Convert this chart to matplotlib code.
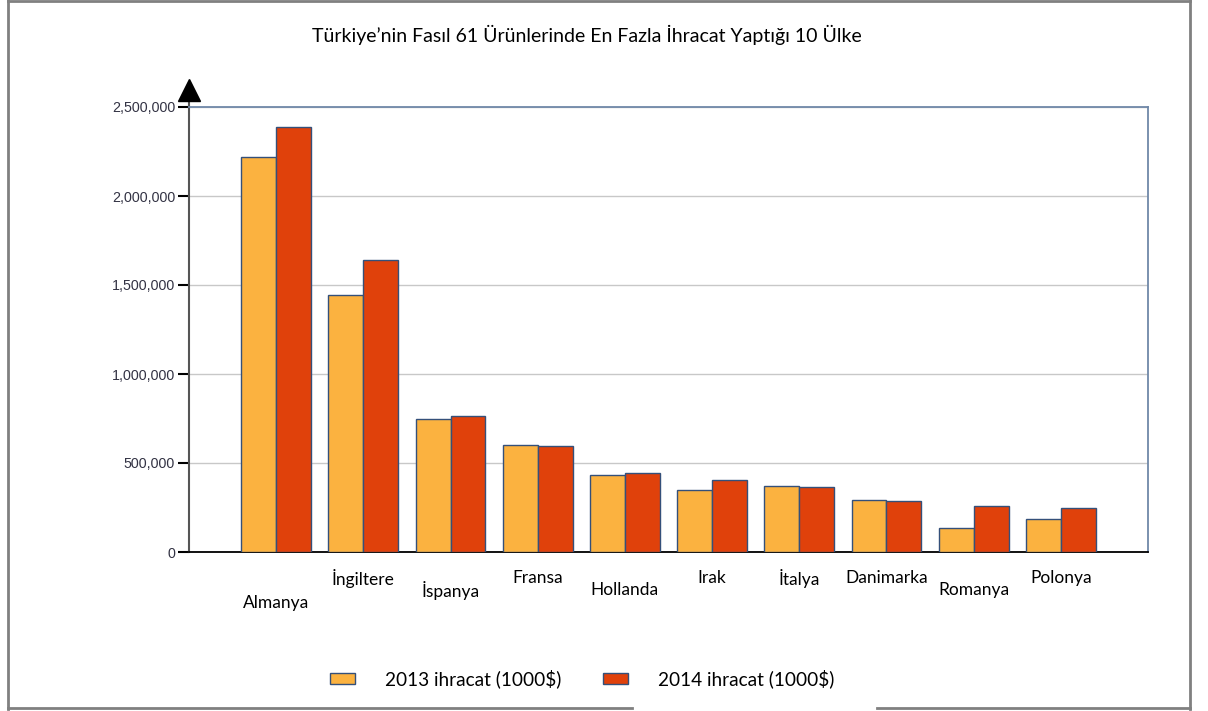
import numpy as np
import matplotlib
matplotlib.use("Agg")
import matplotlib.pyplot as plt
from matplotlib.ticker import FuncFormatter
from matplotlib.lines import Line2D

# Data (1000 $)
countries = ["Almanya", "İngiltere", "İspanya", "Fransa", "Hollanda",
             "Irak", "İtalya", "Danimarka", "Romanya", "Polonya"]
exports_2013 = [2220000, 1443000, 746000, 603000, 433000,
                346000, 373000, 294000, 133000, 188000]
exports_2014 = [2385000, 1640000, 763000, 596000, 444000,
                406000, 365000, 287000, 261000, 248000]
series_labels = ["2013 ihracat (1000$)", "2014 ihracat (1000$)"]
title = "Türkiye’nin Fasıl 61 Ürünlerinde En Fazla İhracat Yaptığı 10 Ülke"

# staggered label drop (px below axis) as in the original
label_drop = [51, 26, 38, 26, 38, 26, 26, 26, 38, 26]

color_2013 = "#FBB240"
color_2014 = "#E0410B"
edge = "#34507A"

fig = plt.figure(figsize=(12.08, 7.11), dpi=100)
ax = fig.add_axes([189 / 1208, 1 - 552 / 711, (1148 - 189) / 1208, (552 - 107) / 711])

x = np.arange(len(countries))
w = 0.4
b1 = ax.bar(x - w / 2, exports_2013, w, color=color_2013, edgecolor=edge, linewidth=1.0,
            label=series_labels[0], zorder=3)
b2 = ax.bar(x + w / 2, exports_2014, w, color=color_2014, edgecolor=edge, linewidth=1.0,
            label=series_labels[1], zorder=3)

ax.set_xlim(-1, len(countries))
ax.set_ylim(0, 2500000)
ax.set_yticks(np.arange(0, 2500001, 500000))
ax.yaxis.set_major_formatter(FuncFormatter(lambda v, p: f"{int(v):,}"))
ax.tick_params(axis="y", direction="out", length=8, width=1.5, color="black",
               labelsize=10.3, labelcolor="#333344", pad=2)
for lab in ax.get_yticklabels():
    lab.set_fontfamily("Liberation Sans")
ax.set_xticks([])
ax.grid(axis="y", color="#C8C8C8", linewidth=1, zorder=0)

ax.spines["top"].set_color("#7088A8")
ax.spines["right"].set_color("#7088A8")
ax.spines["top"].set_linewidth(1.3)
ax.spines["right"].set_linewidth(1.3)
ax.spines["bottom"].set_color("black")
ax.spines["bottom"].set_linewidth(1.3)
ax.spines["left"].set_color("#555555")
ax.spines["left"].set_linewidth(1.5)

# y axis arrow
ax_h = 552 - 107
ax.plot([0, 0], [1, 1 + 20 / ax_h], transform=ax.transAxes, color="#555555",
        lw=1.5, clip_on=False)
ax.plot([0], [1 + 17 / ax_h], transform=ax.transAxes, marker="^", markersize=16,
        color="black", clip_on=False)

# category labels
for xi, name, d in zip(x, countries, label_drop):
    ax.text(xi, -d / ax_h, name, transform=ax.get_xaxis_transform(), ha="center",
            va="center", fontsize=12.5, fontfamily="Lato", color="black")

fig.text(587 / 1208, 1 - 35 / 711, title, ha="center", va="center", fontsize=14,
         fontfamily="Lato", color="black")

leg = fig.legend(handles=[b1, b2], loc="center", bbox_to_anchor=(582 / 1208, 1 - 679 / 711),
                 ncol=2, frameon=False, prop={"family": "Lato", "size": 13.7},
                 handlelength=1.31, handleheight=0.53, handletextpad=1.58, columnspacing=2.2,
                 borderpad=0)

# outer frame
frame_col = "#808080"
fig.add_artist(Line2D([8 / 1208, 8 / 1208], [1 - 709 / 711, 1], transform=fig.transFigure,
                      color=frame_col, lw=2))
fig.add_artist(Line2D([1190 / 1208, 1190 / 1208], [1 - 709 / 711, 1], transform=fig.transFigure,
                      color=frame_col, lw=2))
fig.add_artist(Line2D([8 / 1208, 1190 / 1208], [1 - 1 / 711, 1 - 1 / 711], transform=fig.transFigure,
                      color=frame_col, lw=2))
fig.add_artist(Line2D([8 / 1208, 632 / 1208], [1 - 708 / 711, 1 - 708 / 711], transform=fig.transFigure,
                      color=frame_col, lw=2))
fig.add_artist(Line2D([877 / 1208, 1190 / 1208], [1 - 708 / 711, 1 - 708 / 711], transform=fig.transFigure,
                      color=frame_col, lw=2))

fig.savefig("out.png", dpi=100)
